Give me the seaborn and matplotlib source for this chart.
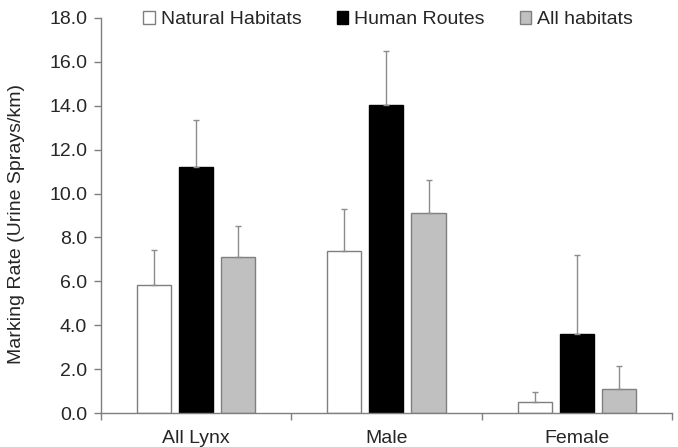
import pandas as pd
import seaborn as sns
import matplotlib.pyplot as plt
from matplotlib.patches import Patch
from matplotlib.ticker import MultipleLocator, FixedLocator

# data
groups = ["All Lynx", "Male", "Female"]
habitats = ["Natural Habitats", "Human Routes", "All habitats"]
natural = [5.82, 7.40, 0.52]
human = [11.21, 14.02, 3.60]
all_hab = [7.09, 9.11, 1.08]
natural_err = [1.62, 1.90, 0.44]
human_err = [2.14, 2.46, 3.58]
all_hab_err = [1.41, 1.52, 1.06]

face = {"Natural Habitats": "white", "Human Routes": "black", "All habitats": "#c0c0c0"}
edge = {"Natural Habitats": "#7f7f7f", "Human Routes": "black", "All habitats": "#7f7f7f"}

rows = []
for hab, vals, errs in zip(habitats, [natural, human, all_hab],
                           [natural_err, human_err, all_hab_err]):
    for g, v, e in zip(groups, vals, errs):
        rows.append({"group": g, "habitat": hab, "rate": v, "err": e})
df = pd.DataFrame(rows)

sns.set_style("white")
plt.rcParams["font.family"] = ["Liberation Sans", "DejaVu Sans"]

fig = plt.figure(figsize=(6.78, 4.47), dpi=100)
ax = fig.add_axes([0.149, 0.076, 0.842, 0.884])

sns.barplot(data=df, x="group", y="rate", hue="habitat", order=groups,
            hue_order=habitats, palette=face, width=0.663, gap=0.19,
            errorbar=None, legend=False, ax=ax)

# bar edges + upper error bars
for hab, cont in zip(habitats, ax.containers):
    errs = df[df.habitat == hab]["err"].values
    for bar, e in zip(cont, errs):
        bar.set_edgecolor(edge[hab])
        bar.set_linewidth(1.0)
        xc = bar.get_x() + bar.get_width() / 2
        h = bar.get_height()
        ax.errorbar(xc, h, yerr=[[0], [e]], fmt="none", ecolor="#8c8c8c",
                    elinewidth=1.0, capsize=2.5, capthick=1.0, zorder=1)

ax.set_ylim(0, 18)
ax.set_xlim(-0.5, 2.5)
ax.yaxis.set_major_locator(MultipleLocator(2))
ax.set_yticklabels([f"{t:.1f}" for t in ax.get_yticks()])
ax.xaxis.set_minor_locator(FixedLocator([-0.5, 0.5, 1.5, 2.5]))
ax.tick_params(axis="x", which="major", length=0, pad=12, labelsize=14)
ax.tick_params(axis="x", which="minor", length=5, direction="out",
               color="#7f7f7f", width=1.0, bottom=True)
ax.tick_params(axis="y", length=5, direction="out", color="#7f7f7f",
               width=1.0, left=True, labelsize=14, pad=5)
ax.set_xlabel("")
ax.set_ylabel("Marking Rate (Urine Sprays/km)", fontsize=14)
ax.yaxis.set_label_coords(-0.133, 0.478)

for s in ["top", "right"]:
    ax.spines[s].set_visible(False)
for s in ["left", "bottom"]:
    ax.spines[s].set_color("#7f7f7f")
    ax.spines[s].set_linewidth(1.0)

handles = [Patch(facecolor=face[h], edgecolor=edge[h], linewidth=1.0, label=h)
           for h in habitats]
ax.legend(handles=handles, loc="center", bbox_to_anchor=(0.503, 0.995), ncol=3,
          frameon=False, fontsize=14, handlelength=0.6, handleheight=0.6,
          handletextpad=0.3, columnspacing=1.8)

fig.savefig("out.png", dpi=100)
